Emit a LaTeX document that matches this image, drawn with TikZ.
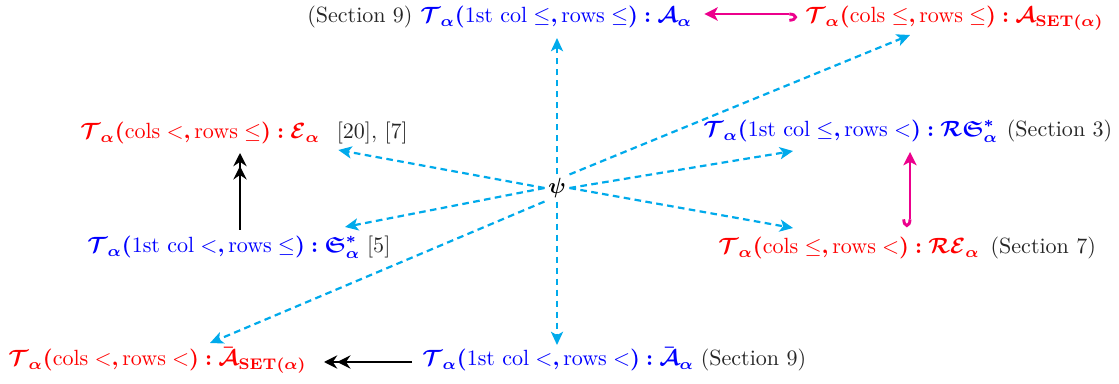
\documentclass[tikz,border=0pt]{standalone}
\usepackage{amsmath,amssymb,bm}
\usetikzlibrary{arrows.meta,calc}
\definecolor{cyn}{RGB}{0,170,235}
\definecolor{mgt}{RGB}{236,0,140}
\newcommand{\Tal}{\bm{\mathcal{T}_{\alpha}}}
\tikzset{
  lbl/.style={inner sep=0pt, anchor=base west},
  ref/.style={inner sep=0pt, anchor=base west, text=black!85},
  cyarrow/.style={draw=cyn, line width=1pt, dash pattern=on 3pt off 2pt, -{Stealth[length=6pt,width=5.5pt,inset=1.5pt]}},
  blkarrow/.style={draw=black, line width=1.3pt, -{Stealth[length=6pt,width=6pt,inset=2pt]Stealth[length=6pt,width=6pt,inset=2pt]}},
  hookarrow/.style={draw=mgt, line width=1.3pt, {Hooks[right,length=3.5pt,width=7pt]}-{Stealth[length=6pt,width=6pt,inset=1.5pt]}},
}
\begin{document}
\begin{tikzpicture}[x=0.454pt,y=-0.454pt]
\useasboundingbox (0,0) rectangle (1119,384);
% psi
\node[inner sep=1.5pt] (psi) at (557,188) {$\bm{\psi}$};
% top
\node[lbl,text=blue] (top) at (420,23) {$\Tal\bm{(}\text{1st col}\le\bm{,}\text{rows}\le\bm{)}\bm{:}\bm{\mathcal{A}_{\alpha}}$};
\node[ref,anchor=base east] (topsec) at ($(top.base west)+(-7,0)$) {(Section 9)};
% top right
\node[lbl,text=red] (tr) at (805,23) {$\Tal\bm{(}\text{cols}\le\bm{,}\text{rows}\le\bm{)}\bm{:}\bm{\mathcal{A}_{\mathbf{SET}(\alpha)}}$};
% left mid
\node[lbl,text=red] (lm) at (80,139) {$\Tal\bm{(}\text{cols}<\bm{,}\text{rows}\le\bm{)}\bm{:}\bm{\mathcal{E}_{\alpha}}$};
\node[ref] (lmref) at ($(lm.base east)+(16,0)$) {[20], [7]};
% right mid
\node[lbl,text=blue] (rm) at (703,137) {$\Tal\bm{(}\text{1st col}\le\bm{,}\text{rows}<\bm{)}\bm{:}\bm{\mathcal{R}\mathfrak{S}^{*}_{\alpha}}$};
\node[ref] (rmref) at ($(rm.base east)+(8,0)$) {(Section 3)};
% left lower
\node[lbl,text=blue] (ll) at (87,253) {$\Tal\bm{(}\text{1st col}<\bm{,}\text{rows}\le\bm{)}\bm{:}\bm{\mathfrak{S}^{*}_{\alpha}}$};
\node[ref] (llref) at ($(ll.base east)+(6,0)$) {[5]};
% right lower
\node[lbl,text=red] (rl) at (718,254) {$\Tal\bm{(}\text{cols}\le\bm{,}\text{rows}<\bm{)}\bm{:}\bm{\mathcal{R}\mathcal{E}_{\alpha}}$};
\node[ref] (rlref) at ($(rl.base east)+(10,0)$) {(Section 7)};
% bottom left
\node[lbl,text=red] (bl) at (8,366) {$\Tal\bm{(}\text{cols}<\bm{,}\text{rows}<\bm{)}\bm{:}\bm{\bar{\mathcal{A}}_{\mathbf{SET}(\alpha)}}$};
% bottom
\node[lbl,text=blue] (bot) at (422,366) {$\Tal\bm{(}\text{1st col}<\bm{,}\text{rows}<\bm{)}\bm{:}\bm{\bar{\mathcal{A}}_{\alpha}}$};
\node[ref] (botsec) at ($(bot.base east)+(6,0)$) {(Section 9)};
% cyan arrows
\draw[cyarrow] (psi.north) -- ($(psi |- top.base)+(0,15)$);
\draw[cyarrow] (psi.south) -- ($(psi |- bot.base)+(0,-21)$);
\draw[cyarrow] (psi.north east) -- ($(tr.base west)+(105,12)$);
\draw[cyarrow] (psi.west) -- ($(lmref.base west)+(2,11)$);
\draw[cyarrow] (psi.east) -- ($(rm.base west)+(90,14)$);
\draw[cyarrow] (psi.west) -- ($(ll.base west)+(258,-26)$);
\draw[cyarrow] (psi.east) -- ($(rl.base west)+(75,-26)$);
\draw[cyarrow] (psi.south west) -- ($(bl.base west)+(202,-23)$);
% black arrows
\draw[blkarrow] ($(ll.base west)+(153,-23)$) -- ($(lm.base west)+(160,14)$);
\draw[blkarrow] ($(bot.base west)+(-10,-4)$) -- ($(bl.base east)+(17,-4)$);
% magenta hook arrows
\draw[hookarrow] ($(tr.base west)+(-8,-9)$) -- ($(top.base east)+(12,-9)$);
\draw[hookarrow] ($(rl.base west)+(192,-27)$) -- ($(rm.base west)+(207,15)$);
\end{tikzpicture}
\end{document}
